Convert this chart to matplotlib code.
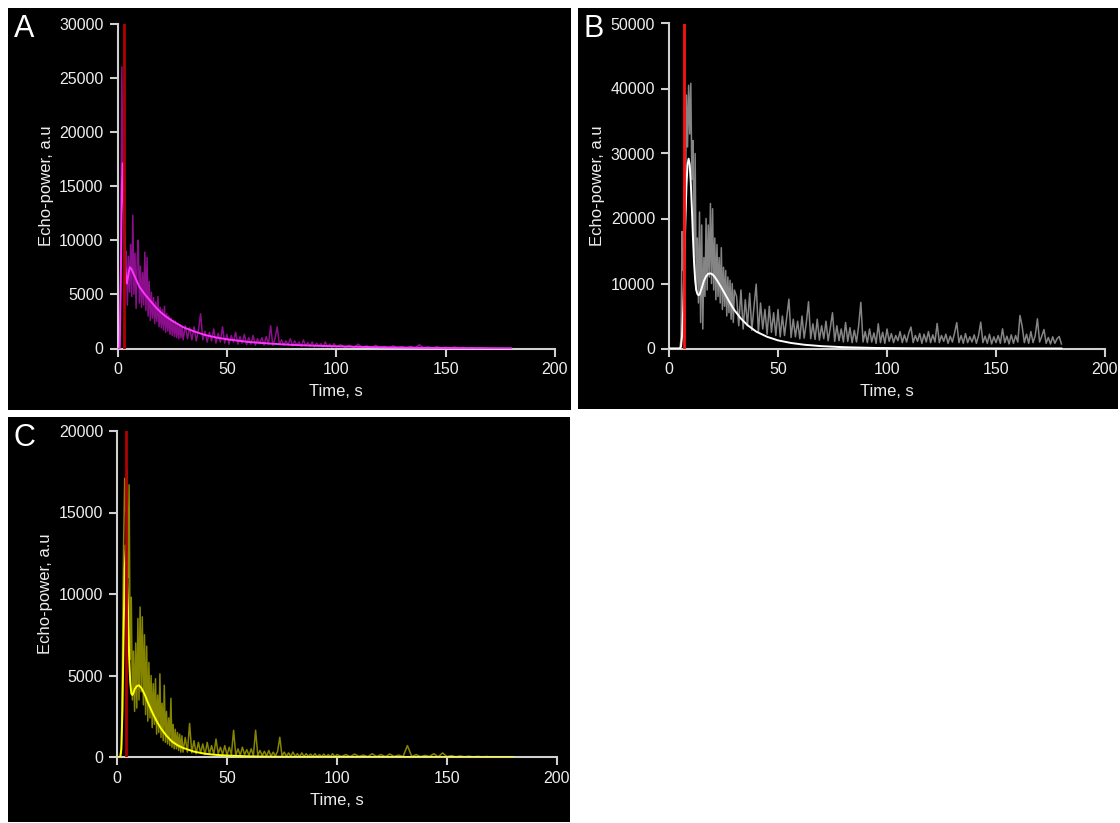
import numpy as np
import matplotlib
matplotlib.use("Agg")
import matplotlib.pyplot as plt

plt.rcParams['font.family'] = ['Liberation Sans', 'DejaVu Sans']

# sampling clock of the recordings (s)
t_noise_a = np.concatenate([np.arange(0, 30.5, 0.5), np.arange(31, 101, 1), np.arange(102, 171, 2)])
t_noise_b = np.concatenate([np.arange(0, 30.5, 0.5), np.arange(31, 181, 1)])
t_noise_c = np.concatenate([np.arange(0, 30.5, 0.5), np.arange(31, 101, 1), np.arange(102, 171, 2)])

# Panel A - raw echo power
noise_a = [
    0, 0, 200, 9000, 26000, 14000, 17000, 6500, 9000, 4000, 8500, 5200, 9600, 4800, 12300, 5000,
    8800, 3700, 8200, 10000, 4200, 7600, 3800, 7000, 4000, 8900, 3500, 8400, 3000, 6200, 2600,
    5200, 2800, 4700, 2300, 4300, 2500, 4800, 2000, 3800, 1900, 3600, 1700, 3900, 1500, 3200,
    1600, 3000, 1300, 2800, 1200, 2600, 1100, 2500, 1000, 2300, 900, 2200, 1000, 2000, 800,
    2100, 900, 1900, 800, 2000, 700, 1700, 3200, 800, 1600, 600, 1500, 700, 1800, 500, 1400,
    600, 2000, 500, 1300, 400, 1200, 600, 1500, 400, 1100, 500, 1300, 350, 1000, 400, 1200,
    300, 900, 450, 1000, 300, 1100, 400, 2100, 300, 900, 2000, 400, 800, 300, 700, 350, 900,
    250, 700, 300, 600, 200, 800, 250, 550, 200, 600, 150, 500, 200, 450, 150, 600, 150, 400,
    100, 450, 150,
    350, 100, 300, 80, 400, 100, 250, 60, 300, 80, 200, 50, 250, 60, 180, 40, 200, 50, 350,
    40, 150, 30, 180, 40, 120, 20, 150, 30, 100, 20, 80, 10, 60, 10, 0,
]
fit_t_a = [0, 1.0, 1.5, 2.0, 2.4, 3.0, 3.5, 4.2, 4.7, 5.2, 5.7, 6.5, 8, 10, 12.5, 15, 17.5, 20,
           22.5, 25, 30, 35, 40, 45, 50, 60, 70, 80, 90, 100, 120, 140, 160, 180]
fit_a = [0, 0, 6000, 15000, 17100, 12000, 7500, 6000, 6500, 7100, 7500, 7300, 6600, 5700, 5000,
         4400, 3800, 3300, 2900, 2550, 1970, 1580, 1250, 1020, 850, 600, 450, 330, 260, 200, 110,
         60, 30, 15]

# Panel B
noise_b = [
    0, 0, 0, 0, 0, 0, 0, 0, 0, 0,
    0, 1500, 18000, 12000, 25000, 21000, 39000, 31000, 40500, 33000, 40800, 26000, 32000, 14000,
    30000, 9000, 17000, 7000, 21000, 4000, 19000, 3000, 14000, 8000, 20000, 9000, 19000, 11000,
    22300, 10000, 21500, 9000, 17000, 7500, 16000, 8000, 14000, 7000, 15500, 6000, 12500, 6500,
    12000, 5000, 11000, 5500, 10500, 4500, 10000, 4000, 9000,
    8000, 3500, 9000, 3000, 7500, 3500, 8500, 2800, 6500, 9900, 2500, 7000, 3000, 6000, 2200,
    6500, 2500, 5500, 2000, 6000, 1800, 5000, 2000, 4800, 7600, 1700, 4500, 1800, 4200, 1500,
    5000, 1600, 4000, 7200, 1500, 3800, 1400, 4500, 1300, 3500, 1500, 4200, 1200, 3200, 5500,
    1100, 3500, 1200, 3000, 1000, 4000, 1100, 3200, 900, 2800, 1000, 3500, 7100, 1000, 2600,
    900, 3000, 1000, 2400, 800, 3800, 900, 2500, 800, 3000,
    1100, 2300, 900, 2000, 1200, 2600, 900, 2100, 1000, 2400, 3300, 900, 2000, 1100, 2300, 800,
    2200, 1000, 2600, 900, 2100, 1000, 3850, 900, 2000, 1100, 2200, 800, 1900, 1000, 2400, 3980,
    900, 2000, 800, 2300, 900, 1800, 1000, 2100, 800, 2000, 4050, 900, 1900, 800, 2200, 700,
    1800, 900, 2000, 800, 3030, 900, 1900, 700, 2100, 800, 2000, 1000, 5080, 3390, 900, 2200,
    800, 2600, 900, 2000, 4570, 1000, 1900, 2920, 800, 1700, 700, 1800, 800, 1500, 1850, 700,
]
fit_t_b = [0, 5, 5.5, 6, 6.5, 7, 7.5, 8, 8.5, 9, 9.5, 10, 10.5, 11, 11.5, 12, 12.5, 13, 13.5, 14,
           15, 16, 17, 18, 19, 20, 21, 22, 24, 26, 28, 30, 33, 36, 40, 45, 50, 56, 62, 70, 80,
           95, 110, 130, 150, 180]
fit_b = [0, 0, 300, 2000, 6000, 12500, 19500, 25000, 28300, 29200, 28300, 25500, 21500, 17000,
         13200, 10500, 9000, 8400, 8200, 8300, 9300, 10400, 11100, 11500, 11550, 11400, 11000,
         10500, 9400, 8200, 7000, 5900, 4600, 3600, 2600, 1800, 1250, 850, 580, 360, 200, 80,
         35, 12, 5, 0]

# Panel C
noise_c = [
    0, 0, 0, 0, 800, 6000, 13000, 17100, 15000, 17600, 11000, 16700, 6000, 9800, 3500, 6500,
    2800, 7000, 3000, 8500, 3500, 9200, 4000, 8600, 3200, 7500, 2600, 6800, 2200, 5800, 2400,
    5000, 1800, 4500, 2000, 4800, 1400, 3800, 1500, 5100, 1200, 3300, 1000, 4400, 900, 2800,
    800, 2400, 700, 3600, 600, 2000, 500, 1700, 500, 1500, 400, 1400, 300, 1300, 300,
    1200, 300, 2060, 250, 1000, 200, 900, 250, 800, 150, 900, 200, 700, 150, 1100, 200, 600,
    150, 700, 100, 600, 150, 1640, 100, 500, 100, 600, 150, 450, 100, 500, 80, 1640, 100, 400,
    80, 350, 60, 400, 50, 300, 60, 350, 1210, 50, 300, 40, 250, 50, 300, 40, 200, 30, 250, 40,
    200, 30, 180, 30, 200, 20, 150, 30, 180, 20, 150, 20, 200, 20, 150,
    30, 150, 20, 180, 30, 120, 20, 200, 30, 150, 20, 180, 30, 120, 20, 700, 30, 150, 20, 100,
    30, 200, 10, 250, 20, 80, 10, 60, 10, 50, 0, 40, 0, 30, 0,
]
fit_t_c = [0, 1.5, 2.0, 2.5, 3.0, 3.5, 4.0, 4.5, 5.0, 5.5, 6.0, 6.5, 7.0, 7.5, 8, 9, 10, 11, 12,
           13, 14, 15, 16, 18, 20, 22.5, 25, 27.5, 30, 35, 40, 45, 50, 60, 70, 80, 100, 130, 160,
           180]
fit_c = [0, 0, 500, 3000, 7500, 11500, 13000, 12000, 9000, 6200, 4600, 3900, 3800, 3950, 4150,
         4350, 4400, 4250, 4000, 3700, 3350, 3050, 2750, 2200, 1750, 1300, 950, 720, 560, 330,
         200, 130, 90, 40, 20, 10, 5, 0, 0, 0]

panels = [
    dict(letter="A", t=t_noise_a, y=noise_a, ft=fit_t_a, fy=fit_a, ymax=30000, yticks=[0, 5000, 10000, 15000, 20000, 25000, 30000],
         marker=2.8, noise_col="#8a0f8a", fit_col="#ff33ff", red="#b00000",
         bg=[8, 8, 571, 410], ax=[117.5, 23.5, 555, 348.5]),
    dict(letter="B", t=t_noise_b, y=noise_b, ft=fit_t_b, fy=fit_b, ymax=50000, yticks=[0, 10000, 20000, 30000, 40000, 50000],
         marker=7.0, noise_col="#858585", fit_col="#ffffff", red="#ff1010",
         bg=[578, 8, 1118, 409], ax=[669, 23.5, 1105, 348.5]),
    dict(letter="C", t=t_noise_c, y=noise_c, ft=fit_t_c, fy=fit_c, ymax=20000, yticks=[0, 5000, 10000, 15000, 20000],
         marker=4.1, noise_col="#858500", fit_col="#ffff00", red="#b00000",
         bg=[8, 417, 570, 822], ax=[117, 431, 557, 757]),
]

W, H = 1120, 823
fig = plt.figure(figsize=(W / 100, H / 100), dpi=100, facecolor="white")


def frac(box):
    x0, y0, x1, y1 = box
    return [x0 / W, 1 - y1 / H, (x1 - x0) / W, (y1 - y0) / H]


axis_col = "#d0d0d0"
text_col = "#eeeeee"

for p in panels:
    bg = fig.add_axes(frac(p["bg"]))
    bg.set_facecolor("black")
    bg.set_xticks([])
    bg.set_yticks([])
    for s in bg.spines.values():
        s.set_visible(False)
    bg.text(0.01, 0.985, p["letter"], transform=bg.transAxes, color="white",
            fontsize=22, va="top", ha="left")

    ax = fig.add_axes(frac(p["ax"]))
    ax.patch.set_alpha(0)
    ax.plot(p["t"], p["y"], color=p["noise_col"], lw=1.1, zorder=2)
    ax.plot(p["ft"], p["fy"], color=p["fit_col"], lw=1.4, zorder=3)
    ax.plot([p["marker"], p["marker"]], [0, p["ymax"]], color=p["red"], lw=2, zorder=4)
    ax.set_xlim(0, 200)
    ax.set_ylim(0, p["ymax"])
    ax.set_xticks([0, 50, 100, 150, 200])
    ax.set_yticks(p["yticks"])
    for side in ["top", "right"]:
        ax.spines[side].set_visible(False)
    for side in ["left", "bottom"]:
        ax.spines[side].set_color(axis_col)
        ax.spines[side].set_linewidth(1.5)
    ax.tick_params(colors=axis_col, labelcolor=text_col, labelsize=11.5, width=1.5, length=6, pad=4)
    ax.set_xlabel("Time, s", color=text_col, fontsize=12, labelpad=5)
    ax.set_ylabel("Echo-power, a.u", color=text_col, fontsize=12, labelpad=4)

fig.savefig("out.png", dpi=100, facecolor="white")
